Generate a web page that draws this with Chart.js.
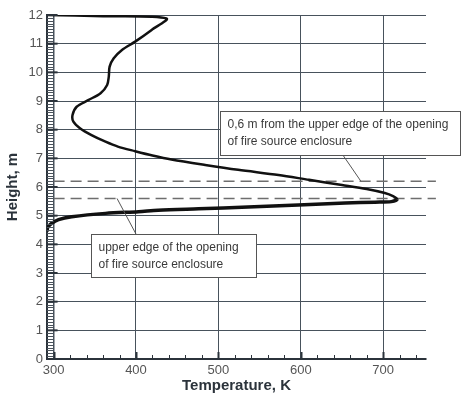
<!DOCTYPE html>
<html>
<head>
<meta charset="utf-8">
<script src="https://cdn.jsdelivr.net/npm/chart.js@4/dist/chart.umd.min.js"></script>
<style>
  html, body { margin: 0; background: #fff; }
</style>
</head>
<body>
<canvas id="chart" width="466" height="399"></canvas>
<script>
// temperature profile, read top to bottom
const temps   = [292, 360, 437, 419, 399, 383, 373, 368, 367, 365, 357, 342, 328, 323, 324, 332, 346, 363, 378, 399, 420, 443, 484, 524, 573, 610, 650, 680, 702, 712, 717, 710, 690, 654, 597, 536, 476, 427, 403, 363, 322, 306, 297, 293, 292]
const heights = [12.0, 11.96, 11.88, 11.48, 11.07, 10.78, 10.49, 10.2, 9.85, 9.56, 9.27, 9.03, 8.8, 8.51, 8.28, 8.05, 7.81, 7.58, 7.41, 7.25, 7.1, 6.96, 6.77, 6.6, 6.42, 6.25, 6.07, 5.93, 5.79, 5.68, 5.57, 5.49, 5.47, 5.44, 5.37, 5.3, 5.24, 5.19, 5.14, 5.08, 4.96, 4.86, 4.72, 4.6, 4.45]

const xTicks = [300, 400, 500, 600, 700]
const yTicks = [0, 1, 2, 3, 4, 5, 6, 7, 8, 9, 10, 11, 12]

// the two dashed reference levels
const dashHeights = [5.6, 6.2]
const dashTemps   = [300, 764]

// callout boxes: [left T, top h, right T, bottom h], leader [from, to]
const noteText1   = ['0,6 m from the upper edge of the opening', 'of fire source enclosure']
const noteBox1    = [502, 8.65, 793, 7.12]
const noteLeader1 = [[673, 6.2], [651, 7.12]]
const noteText2   = ['upper edge of the opening', 'of fire source enclosure']
const noteBox2    = [345, 4.36, 546, 2.86]
const noteLeader2 = [[377, 5.6], [400, 4.36]]

const FONT = '"Liberation Sans", Arial, sans-serif'
const GRID = '#48525c'
const AXIS = '#2b333b'
const peakIdx = temps.indexOf(Math.max(...temps))

const frame = {
  id: 'frame',
  afterDatasetsDraw(chart) {
    const { ctx, scales: { x, y } } = chart
    ctx.save()
    ctx.strokeStyle = AXIS

    // ladder on the left edge
    const x0 = x.left
    const x1 = x.getPixelForValue(300)
    ctx.lineWidth = 1
    ctx.strokeStyle = '#4a535c'
    for (let i = 0; i <= 120; i++) {
      const py = Math.round(y.getPixelForValue(i / 10)) + 0.5
      ctx.beginPath(); ctx.moveTo(x0, py); ctx.lineTo(x1, py); ctx.stroke()
    }
    ctx.strokeStyle = AXIS
    // major y ticks, pointing inward
    ctx.lineWidth = 2
    for (const v of yTicks) {
      const py = y.getPixelForValue(v)
      ctx.beginPath(); ctx.moveTo(x0, py); ctx.lineTo(x1 + 4, py); ctx.stroke()
    }
    // x ticks, pointing inward
    for (let t = 300; t <= 740; t += 20) {
      const major = t % 100 === 0
      const px = Math.round(x.getPixelForValue(t)) + 0.5
      ctx.lineWidth = major ? 2 : 1
      ctx.beginPath(); ctx.moveTo(px, y.bottom); ctx.lineTo(px, y.bottom - (major ? 7 : 4)); ctx.stroke()
    }

    // callouts
    const drawNote = (text, box, leader) => {
      ctx.strokeStyle = '#555'
      ctx.lineWidth = 1
      ctx.beginPath()
      ctx.moveTo(x.getPixelForValue(leader[0][0]), y.getPixelForValue(leader[0][1]))
      ctx.lineTo(x.getPixelForValue(leader[1][0]), y.getPixelForValue(leader[1][1]))
      ctx.stroke()
      const l = Math.round(x.getPixelForValue(box[0])) + 0.5
      const t = Math.round(y.getPixelForValue(box[1])) + 0.5
      const r = Math.round(x.getPixelForValue(box[2])) + 0.5
      const b = Math.round(y.getPixelForValue(box[3])) + 0.5
      ctx.fillStyle = '#fff'
      ctx.fillRect(l, t, r - l, b - t)
      ctx.strokeRect(l, t, r - l, b - t)
      ctx.fillStyle = '#3a3a3a'
      ctx.font = '12px ' + FONT
      ctx.textBaseline = 'middle'
      ctx.textAlign = 'left'
      text.forEach((line, i) => ctx.fillText(line, l + 7, t + 13 + i * 17.5))
    }
    drawNote(noteText1, noteBox1, noteLeader1)
    drawNote(noteText2, noteBox2, noteLeader2)
    ctx.restore()
  },
}

new Chart(document.getElementById('chart'), {
  type: 'scatter',
  data: {
    datasets: [
      {
        data: temps.map((t, i) => ({ x: t, y: heights[i] })),
        showLine: true,
        borderColor: '#111',
        borderWidth: 2.5,
        pointRadius: 0,
        tension: 0.3,
        segment: { borderWidth: c => (c.p0DataIndex >= peakIdx ? 3.5 : 2.5) },
      },
      ...dashHeights.map(h => ({
        data: dashTemps.map(t => ({ x: t, y: h })),
        showLine: true,
        borderColor: '#6e6e6e',
        borderWidth: 1.5,
        borderDash: [11, 6],
        pointRadius: 0,
        clip: false,
      })),
    ],
  },
  options: {
    responsive: false,
    animation: false,
    layout: { padding: { top: 15, right: 40, left: 0, bottom: 0 } },
    plugins: { legend: { display: false }, tooltip: { enabled: false } },
    scales: {
      x: {
        type: 'linear',
        min: 292,
        max: 752,
        afterBuildTicks: s => { s.ticks = xTicks.map(v => ({ value: v })) },
        afterFit: s => { s.height = 40 },
        grid: { color: GRID, lineWidth: c => (c.tick && c.tick.value === 300 ? 1.5 : 1), drawTicks: false },
        border: { color: AXIS, width: 2 },
        ticks: { color: '#555', font: { size: 13, family: FONT }, padding: 4, maxRotation: 0 },
        title: { display: true, text: 'Temperature, K', color: AXIS, font: { size: 15, weight: 'bold', family: FONT }, padding: { top: 2 } },
      },
      y: {
        min: 0,
        max: 12,
        afterBuildTicks: s => { s.ticks = yTicks.map(v => ({ value: v })) },
        afterFit: s => { s.width = 47 },
        grid: { color: GRID, lineWidth: 1, drawTicks: false },
        border: { color: AXIS, width: 2 },
        ticks: { color: '#555', font: { size: 13, family: FONT }, padding: 4 },
        title: { display: true, text: 'Height, m', color: AXIS, font: { size: 15, weight: 'bold', family: FONT }, padding: { top: 4 } },
      },
    },
  },
  plugins: [frame],
})
</script>
</body>
</html>
